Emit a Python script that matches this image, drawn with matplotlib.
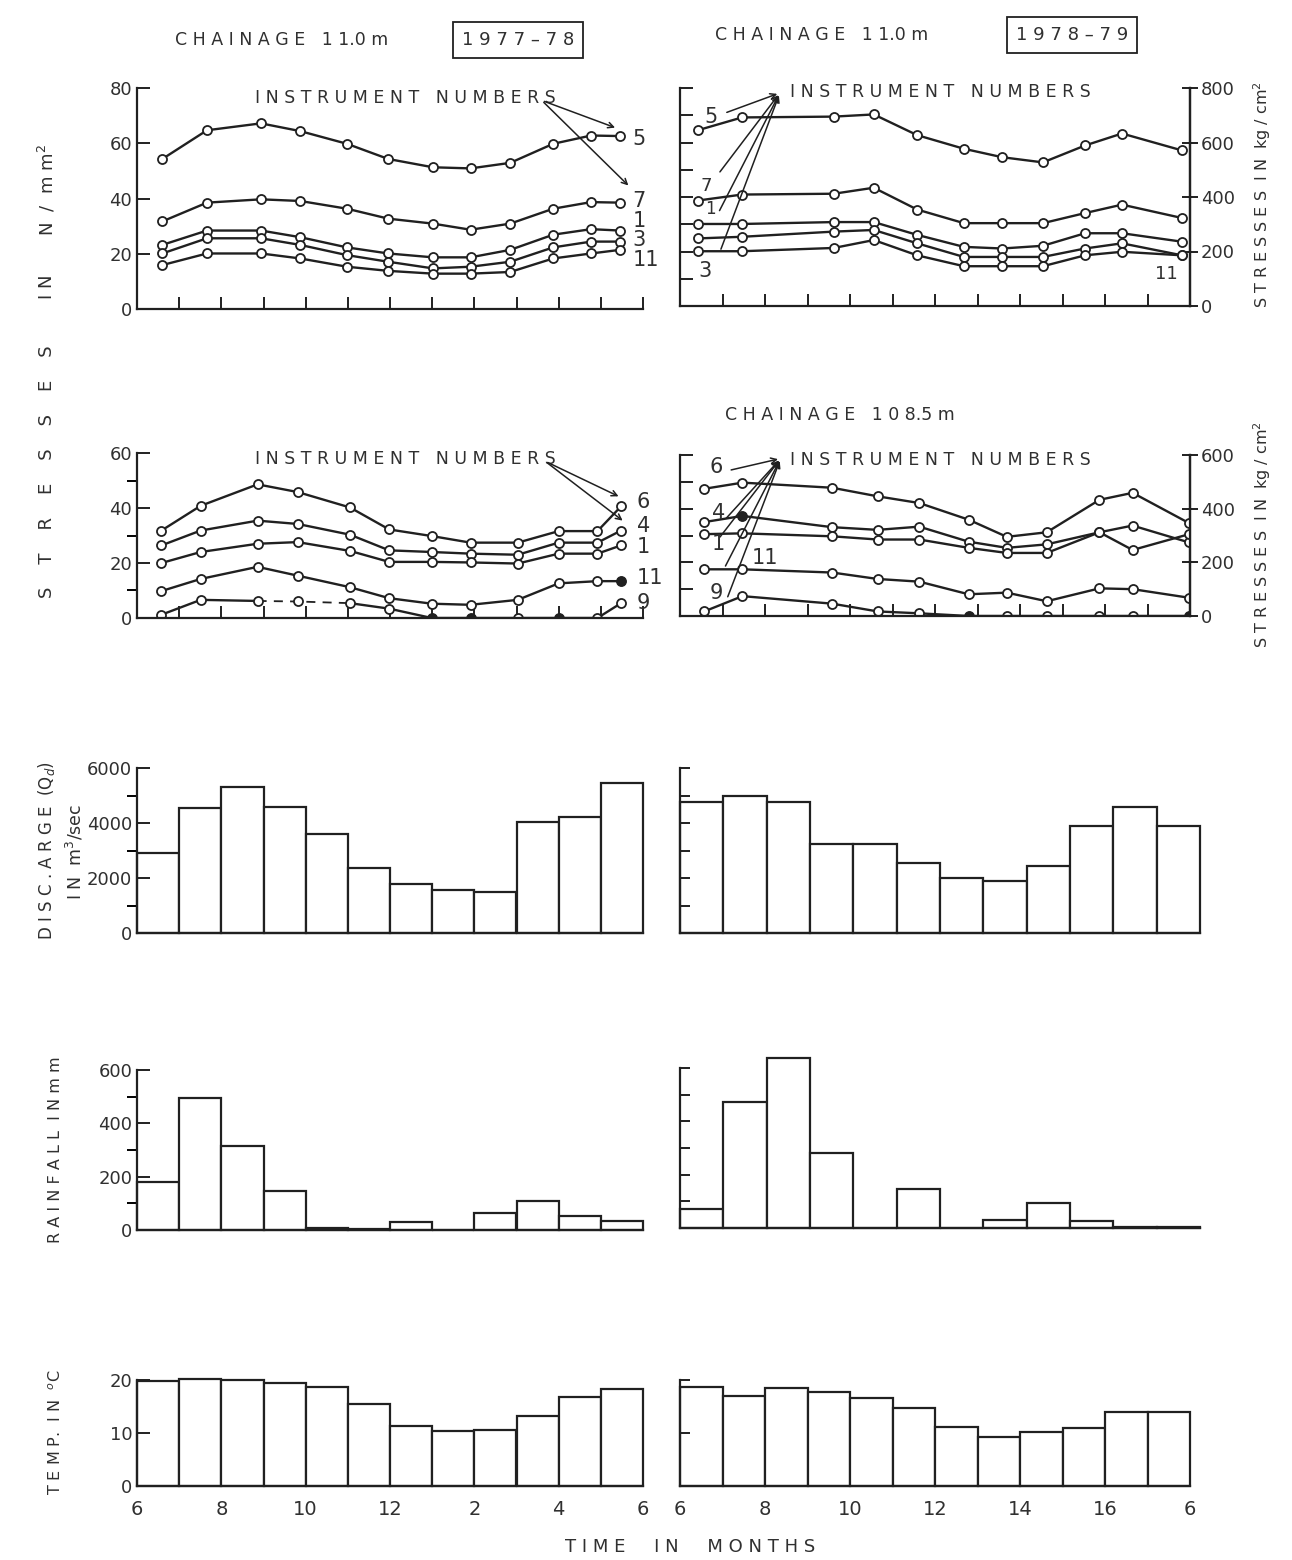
import numpy as np
import matplotlib.pyplot as plt
from matplotlib.ticker import MultipleLocator

W, H = 1292, 1560
INK = '#202020'
TXT = '#303030'
plt.rcParams['font.family'] = 'DejaVu Sans'
plt.rcParams['text.color'] = TXT

# ---- stresses, chainage 11.0 m (N/mm^2) ----
t_a77 = [6.6, 7.66, 8.94, 9.87, 10.98, 11.96, 13.02, 13.91, 14.85, 15.87, 16.77, 17.45]
a77 = {
    '5': [54.3, 64.7, 67.2, 64.4, 59.8, 54.3, 51.3, 50.9, 52.9, 59.8, 62.8, 62.6],
    '7': [31.7, 38.5, 39.7, 39.1, 36.3, 32.7, 30.9, 28.7, 30.9, 36.3, 38.7, 38.5],
    '1': [23.2, 28.4, 28.4, 26.0, 22.3, 20.1, 18.7, 18.7, 21.4, 26.9, 28.9, 28.4],
    '3': [20.1, 25.6, 25.6, 23.2, 19.5, 17.1, 14.7, 15.3, 17.1, 22.3, 24.4, 24.4],
    '11': [15.9, 20.1, 20.1, 18.3, 15.3, 13.8, 12.8, 12.8, 13.4, 18.3, 20.1, 21.4],
}
t_a78 = [6.42, 7.46, 9.62, 10.56, 11.58, 12.68, 13.58, 14.54, 15.53, 16.4, 17.81]
a78 = {
    '5': [64.5, 69.2, 69.5, 70.3, 62.7, 57.7, 54.6, 52.7, 58.9, 63.3, 57.1],
    '7': [38.7, 40.9, 41.2, 43.4, 35.4, 30.4, 30.4, 30.4, 34.1, 37.2, 32.3],
    '1': [30.1, 30.1, 30.8, 30.8, 26.1, 21.7, 21.1, 22.1, 26.7, 26.7, 23.6],
    '3': [24.8, 25.4, 27.3, 27.9, 23.0, 18.0, 18.0, 18.0, 21.1, 23.0, 18.6],
    '11': [20.1, 20.1, 21.3, 24.2, 18.6, 14.6, 14.6, 14.6, 18.6, 19.9, 18.6],
}

# ---- stresses, chainage 108.5 m (N/mm^2) ----
t_b77 = [6.58, 7.51, 8.86, 9.81, 11.05, 11.98, 12.99, 13.91, 15.03, 16.0, 16.92, 17.48]
b77 = {
    '6': [31.8, 40.8, 48.6, 45.8, 40.2, 32.2, 29.8, 27.4, 27.4, 31.6, 31.6, 40.6],
    '4': [26.4, 31.8, 35.4, 34.2, 30.3, 24.6, 24.0, 23.4, 23.0, 27.4, 27.4, 31.8],
    '1': [20.0, 24.0, 27.0, 27.6, 24.4, 20.4, 20.4, 20.2, 19.8, 23.4, 23.4, 26.4],
    '11': [9.8, 14.2, 18.6, 15.4, 11.2, 7.2, 5.2, 4.8, 6.6, 12.6, 13.4, 13.4],
    '9': [1.2, 6.6, 6.2, 6.0, 5.4, 3.4, 0, 0, 0, 0, 0, 5.4],
}
t_b78 = [6.57, 7.47, 9.58, 10.65, 11.63, 12.79, 13.69, 14.63, 15.87, 16.65, 17.98]
b78 = {
    '6': [47.4, 49.7, 47.8, 44.6, 42.1, 35.9, 29.5, 31.2, 43.3, 45.9, 34.6],
    '4': [35.0, 37.3, 33.1, 32.1, 33.3, 27.7, 25.4, 26.7, 31.2, 33.7, 27.4],
    '1': [30.5, 30.8, 29.7, 28.5, 28.5, 25.4, 23.5, 23.5, 31.2, 24.6, 30.5],
    '11': [17.4, 17.4, 16.2, 13.8, 12.8, 8.1, 8.7, 5.5, 10.3, 10.0, 6.8],
    '9': [1.7, 7.4, 4.6, 1.7, 1.0, 0, 0, 0, 0, 0, 0],
}

# ---- monthly values, June to June ----
months = np.arange(6, 18)
q77 = [2900, 4560, 5300, 4580, 3600, 2370, 1770, 1580, 1480, 4030, 4230, 5460]
q78 = [4780, 5000, 4770, 3250, 3250, 2550, 2000, 1900, 2450, 3900, 4600, 3880]
rain77 = [181, 496, 314, 145, 6, 2, 30, 0, 63, 109, 53, 34]
rain78 = [71, 472, 638, 280, 0, 145, 0, 31, 95, 25, 3, 3]
temp77 = [19.8, 20.2, 20.0, 19.4, 18.6, 15.5, 11.4, 10.3, 10.6, 13.2, 16.7, 18.3]
temp78 = [18.6, 17.0, 18.5, 17.8, 16.6, 14.7, 11.1, 9.2, 10.1, 11.0, 13.9, 13.9]

xlab_77 = ['6', '8', '10', '12', '2', '4', '6']
xlab_78 = ['6', '8', '10', '12', '14', '16', '6']

fig = plt.figure(figsize=(W / 100, H / 100), dpi=100)


def box(x0, top, x1, bottom):
    return [x0 / W, 1 - bottom / H, (x1 - x0) / W, (bottom - top) / H]


def frame(ax):
    for s in ['top', 'right']:
        ax.spines[s].set_visible(False)
    for s in ax.spines.values():
        s.set_linewidth(1.6)
        s.set_color(INK)
    ax.set_xlim(6, 18)
    ax.tick_params(axis='both', colors=INK, labelcolor=TXT, labelsize=13,
                   width=1.4, direction='in')
    ax.tick_params(axis='y', which='major', length=9)
    ax.tick_params(axis='y', which='minor', length=7, width=1.4)


def stress(ax, t, data, top, dashed=None, filled=None):
    frame(ax)
    for k, v in data.items():
        if dashed and k in dashed:
            i0, i1 = dashed[k]
            ax.plot(t[:i0 + 1], v[:i0 + 1], color=INK, lw=1.7)
            ax.plot(t[i0:i1 + 1], v[i0:i1 + 1], color=INK, lw=1.3, ls=(0, (5, 4)))
            ax.plot(t[i1:], v[i1:], color=INK, lw=1.7)
        else:
            ax.plot(t, v, color=INK, lw=1.7)
        ax.plot(t, v, ls='none', marker='o', ms=6.5, mfc='white', mec=INK, mew=1.3)
        if filled and k in filled:
            idx = filled[k]
            ax.plot([t[i] for i in idx], [v[i] for i in idx], ls='none', marker='o',
                    ms=6, color=INK)
    ax.set_ylim(0, top)
    ax.set_xticks(np.arange(7, 19))
    ax.tick_params(axis='x', length=9, labelbottom=False)


def kg_axis(ax, ticks):
    ax.spines['right'].set_visible(True)
    ax.yaxis.set_major_locator(MultipleLocator(10))
    ax.tick_params(axis='y', labelleft=False)
    sec = ax.secondary_yaxis('right', functions=(lambda v: v * 10, lambda v: v / 10))
    sec.set_yticks(ticks)
    sec.tick_params(direction='inout', length=12, width=1.4, colors=INK,
                    labelcolor=TXT, labelsize=13, pad=2)
    sec.spines['right'].set_linewidth(1.6)


def bars(ax, vals, top):
    frame(ax)
    ax.bar(months, vals, width=1.0, align='edge', facecolor='white', edgecolor=INK,
           lw=1.6, clip_on=False)
    ax.set_ylim(0, top)
    ax.tick_params(axis='x', length=0, labelbottom=False)


LX0, LX1 = 137, 643
RX0, RX1 = 680, 1192

# row 1
ax1 = fig.add_axes(box(LX0, 88, LX1, 309))
stress(ax1, t_a77, a77, 80)
ax1.set_yticks([0, 20, 40, 60, 80])
ax2 = fig.add_axes(box(RX0, 88, RX1 - 2, 306))
stress(ax2, t_a78, a78, 80)
kg_axis(ax2, [0, 200, 400, 600, 800])

# row 2
ax3 = fig.add_axes(box(LX0, 453, LX1, 618))
stress(ax3, t_b77, b77, 60, dashed={'9': (2, 4)}, filled={'9': [6, 7, 9], '11': [11]})
ax3.set_yticks([0, 20, 40, 60])
ax3.yaxis.set_minor_locator(MultipleLocator(10))
ax4 = fig.add_axes(box(RX0, 455, RX1 - 2, 616))
stress(ax4, t_b78, b78, 60, filled={'9': [5, 10], '4': [1]})
kg_axis(ax4, [0, 200, 400, 600])

# discharge
ax5 = fig.add_axes(box(LX0, 768, LX1, 933))
bars(ax5, q77, 6000)
ax5.set_yticks([0, 2000, 4000, 6000])
ax5.yaxis.set_minor_locator(MultipleLocator(1000))
ax6 = fig.add_axes(box(RX0, 768, RX1 + 8, 933))
bars(ax6, q78, 6000)
ax6.yaxis.set_major_locator(MultipleLocator(1000))
ax6.tick_params(axis='y', labelleft=False, length=7)

# rainfall
ax7 = fig.add_axes(box(LX0, 1070, LX1, 1230))
bars(ax7, rain77, 600)
ax7.set_yticks([0, 200, 400, 600])
ax7.yaxis.set_minor_locator(MultipleLocator(100))
ax8 = fig.add_axes(box(RX0, 1068, RX1 + 8, 1228))
bars(ax8, rain78, 600)
ax8.yaxis.set_major_locator(MultipleLocator(100))
ax8.tick_params(axis='y', labelleft=False, length=7)

# temperature
ax9 = fig.add_axes(box(LX0, 1380, LX1, 1486))
bars(ax9, temp77, 20)
ax9.set_yticks([0, 10, 20])
ax9.set_xticks(np.arange(6, 19, 2))
ax9.set_xticklabels(xlab_77)
ax9.tick_params(axis='x', labelbottom=True, pad=10, labelsize=14)
ax10 = fig.add_axes(box(RX0, 1380, RX1 - 2, 1486))
bars(ax10, temp78, 20)
ax10.set_yticks([10, 20])
ax10.tick_params(axis='y', labelleft=False, length=7)
ax10.set_xticks(np.arange(6, 19, 2))
ax10.set_xticklabels(xlab_78)
ax10.tick_params(axis='x', labelbottom=True, pad=10, labelsize=14)

# instrument labels, row 1
HEAD = 'I N S T R U M E N T   N U M B E R S'
kw = dict(fontsize=15, color=TXT, va='center')
ax1.text(8.8, 76.5, HEAD, fontsize=12.5, va='center')
for tip in [(17.4, 65.3), (17.7, 44.0)]:
    ax1.annotate('', xy=tip, xytext=(15.6, 75.5),
                 arrowprops=dict(arrowstyle='->', color=INK, lw=1.1))
for lab, y in [('5', 61.7), ('7', 39.0), ('1', 31.7), ('3', 25.0), ('11', 17.7)]:
    ax1.text(17.75, y, lab, **kw)

ax2.text(8.6, 78.5, HEAD, fontsize=12.5, va='center', clip_on=False)
for end in [(7.04, 70.7), (6.9, 48.4), (6.9, 34.1), (6.94, 19.9)]:
    ax2.annotate('', xy=(8.35, 78.2), xytext=end,
                 arrowprops=dict(arrowstyle='->', color=INK, lw=1.1))
for lab, x, y, fs in [('5', 6.72, 69.5, 15), ('7', 6.62, 44.2, 13), ('1', 6.72, 35.6, 12),
                      ('3', 6.6, 13.0, 15), ('11', 17.45, 11.8, 13)]:
    ax2.text(x, y, lab, ha='center', va='center', fontsize=fs)

# instrument labels, row 2
ax3.text(8.8, 57.8, HEAD, fontsize=12.5, va='center')
for tip in [(17.48, 43.8), (17.57, 34.8)]:
    ax3.annotate('', xy=tip, xytext=(15.68, 57.0),
                 arrowprops=dict(arrowstyle='->', color=INK, lw=1.1))
for lab, y in [('6', 42.0), ('4', 33.6), ('1', 25.8), ('11', 14.4), ('9', 5.4)]:
    ax3.text(17.85, y, lab, **kw)

ax4.text(8.6, 58.0, HEAD, fontsize=12.5, va='center', clip_on=False)
for end in [(7.14, 54.2), (7.04, 35.6), (6.9, 28.6), (7.04, 17.7), (7.1, 6.2)]:
    ax4.annotate('', xy=(8.37, 58.7), xytext=end,
                 arrowprops=dict(arrowstyle='->', color=INK, lw=1.1))
for lab, x, y in [('6', 6.85, 55.5), ('4', 6.9, 38.2), ('1', 6.9, 26.7),
                  ('11', 8.0, 21.5), ('9', 6.85, 8.7)]:
    ax4.text(x, y, lab, ha='center', **kw)


def ftext(x, y, s, **k):
    fig.text(x / W, 1 - y / H, s, **k)


# headings
ftext(282, 40, 'C H A I N A G E   1 1.0 m', fontsize=12.5, ha='center', va='center')
ftext(518, 40, '1 9 7 7 – 7 8', fontsize=13, ha='center', va='center',
      bbox=dict(boxstyle='square,pad=0.5', fc='white', ec=INK, lw=1.3))
ftext(822, 35, 'C H A I N A G E   1 1.0 m', fontsize=12.5, ha='center', va='center')
ftext(1072, 35, '1 9 7 8 – 7 9', fontsize=13, ha='center', va='center',
      bbox=dict(boxstyle='square,pad=0.5', fc='white', ec=INK, lw=1.3))
ftext(840, 415, 'C H A I N A G E   1 0 8.5 m', fontsize=12.5, ha='center', va='center')

# axis titles
rot = dict(rotation=90, ha='center', va='center')
ftext(47, 190, 'N  /  m m$^{2}$', fontsize=13, **rot)
ftext(47, 287, 'I N', fontsize=13, **rot)
ftext(47, 472, 'S    T    R    E    S    S    E    S', fontsize=13, **rot)
ftext(1262, 195, 'S T R E S S E S  I N  kg / cm$^{2}$', fontsize=11.5, **rot)
ftext(1262, 535, 'S T R E S S E S  I N  kg / cm$^{2}$', fontsize=11.5, **rot)
ftext(47, 850, 'D I S C . A R G E  (Q$_d$)', fontsize=12, **rot)
ftext(75, 852, 'I N  m$^{3}$/sec', fontsize=12.5, **rot)
ftext(56, 1150, 'R A I N F A L L  I N m m', fontsize=11.5, **rot)
ftext(56, 1432, 'T E M P.  I N  $^{o}$C', fontsize=11.5, **rot)
ftext(690, 1547, 'T I M E     I N     M O N T H S', fontsize=13, ha='center', va='center')

fig.savefig('out.png', dpi=100, facecolor='white')
